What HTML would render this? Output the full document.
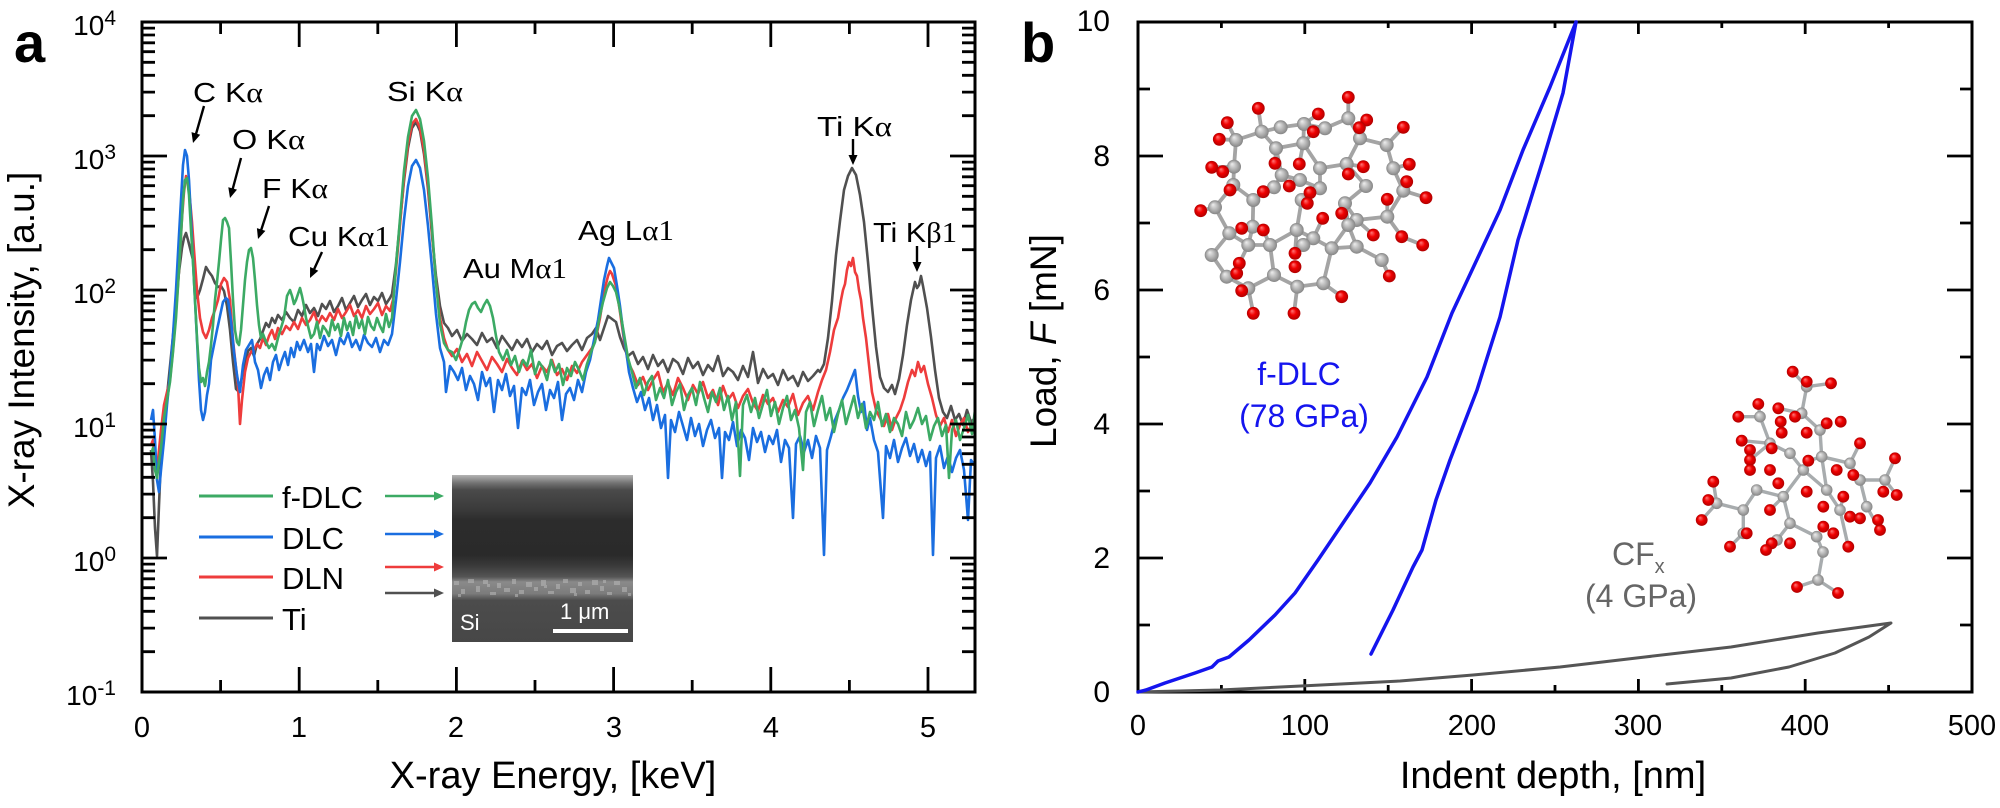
<!DOCTYPE html>
<html><head><meta charset="utf-8"><style>
html,body{margin:0;padding:0;background:#fff;}
svg{display:block;font-family:"Liberation Sans",Arial,sans-serif;}
</style></head><body>
<svg width="2000" height="808" viewBox="0 0 2000 808" xmlns="http://www.w3.org/2000/svg">
<defs>
 <clipPath id="cpa"><rect x="142" y="22" width="833" height="670"/></clipPath>
 <radialGradient id="gG" cx="0.5" cy="0.5" r="0.5" fx="0.35" fy="0.3"><stop offset="0" stop-color="#eeeeee"/><stop offset="0.6" stop-color="#b0b0b0"/><stop offset="1" stop-color="#858585"/></radialGradient>
 <radialGradient id="gR" cx="0.5" cy="0.5" r="0.5" fx="0.35" fy="0.3"><stop offset="0" stop-color="#ff7a7a"/><stop offset="0.5" stop-color="#f00000"/><stop offset="1" stop-color="#b00000"/></radialGradient>
 <linearGradient id="sem" x1="0" y1="0" x2="0" y2="1">
  <stop offset="0" stop-color="#b4b4b4"/>
  <stop offset="0.048" stop-color="#737373"/>
  <stop offset="0.09" stop-color="#4a4a4a"/>
  <stop offset="0.21" stop-color="#3a3a3a"/>
  <stop offset="0.27" stop-color="#2c2c2c"/>
  <stop offset="0.48" stop-color="#2a2a2a"/>
  <stop offset="0.54" stop-color="#393939"/>
  <stop offset="0.61" stop-color="#555555"/>
  <stop offset="0.64" stop-color="#8a8a8a"/>
  <stop offset="0.71" stop-color="#7c7c7c"/>
  <stop offset="0.75" stop-color="#4c4c4c"/>
  <stop offset="1" stop-color="#474747"/>
 </linearGradient>
</defs>

<!-- ===== panel a spectra ===== -->
<g clip-path="url(#cpa)" fill="none" stroke-width="2.6" stroke-linejoin="round">
<polyline stroke="#505050" points="151,450 153,482 155,528 157,556 159,505 161,458 164,420 167,396 170,366 173,336 176,302 179,272 182,248 184,238 186,233 188,240 191,252 194,264 197,298 200,290 203,279 206,267 209,272 212,276 215,283 218,287 221,286 224,291 227,306 230,330 233,362 236,389 239,392 242,377 245,363 248,351 251,348 254,356 257,344 260,339 263,331 266,323 269,327 272,318 275,323 278,315 282,320 286,312 290,318 294,322 298,310 302,316 306,305 310,313 314,308 318,316 322,304 326,309 330,301 334,312 338,306 342,298 346,310 350,303 354,296 358,307 362,300 366,294 370,305 374,297 378,301 382,293 386,304 390,298 392,294 396,264 400,222 404,181 408,148 412,128 416,122 420,131 424,154 428,189 432,235 436,276 440,306 444,323 448,328 452,336 457,330 462,341 467,334 472,339 477,345 482,333 487,342 492,338 497,348 502,336 507,343 512,350 517,340 522,347 527,339 532,352 537,344 542,349 547,341 552,355 557,346 562,343 567,351 572,345 577,340 582,350 587,338 592,334 596,328 600,340 604,328 608,316 612,319 616,322 620,337 624,348 628,356 633,352 638,364 643,357 648,369 653,355 658,366 663,360 668,372 673,359 678,363 683,374 688,358 693,368 698,362 703,375 708,365 713,371 718,356 723,376 728,368 733,372 738,380 743,366 748,377 753,352 758,383 763,369 768,378 773,374 778,385 783,370 788,380 793,376 798,386 803,372 808,381 813,376 818,370 820,372 824,364 828,338 832,301 836,255 840,221 844,190 848,176 852,168 856,175 860,195 864,222 868,262 872,306 876,347 880,377 884,388 888,392 892,385 895,394 899,379 903,355 907,325 911,300 915,282 917,288 919,285 921,276 923,286 927,308 931,337 935,370 939,398 943,412 947,418 951,406 955,420 959,414 963,425 967,410 971,422 975,418"/>
<polyline stroke="#ee3c3c" points="151,445 153,440 155,462 157,470 159,450 161,430 164,405 167,392 170,380 173,350 176,312 179,270 182,218 184,192 186,176 188,184 190,200 192,222 194,250 197,290 200,318 203,332 206,338 209,330 212,318 215,310 218,300 221,284 224,278 227,282 230,300 233,340 236,368 238,385 240,424 242,400 245,372 248,358 251,352 254,350 257,344 260,348 263,338 266,345 269,336 272,330 275,339 278,328 282,334 286,326 290,330 294,322 298,329 302,318 306,325 310,320 314,312 318,324 322,316 326,321 330,313 334,320 338,309 342,318 346,312 350,305 354,316 358,310 362,318 366,306 370,314 374,309 378,303 382,315 386,306 390,311 393,300 396,270 400,225 404,178 408,144 412,124 416,119 420,128 424,150 428,186 432,232 436,282 440,318 444,338 448,350 452,356 457,349 462,362 467,354 472,366 477,352 482,361 487,370 492,357 497,364 502,372 507,359 512,368 517,375 522,361 527,370 532,364 537,378 542,366 547,372 552,360 557,375 562,369 567,380 572,366 577,373 582,362 587,355 592,348 596,338 600,318 604,292 608,276 610,271 612,274 616,286 620,312 624,340 628,362 633,372 638,385 643,377 648,390 653,380 658,372 663,392 668,383 673,395 678,378 683,388 688,400 693,385 698,394 703,382 708,398 713,390 718,405 723,386 728,400 733,393 738,408 743,396 748,389 753,403 758,411 763,395 768,404 773,398 778,412 783,400 788,407 793,394 798,415 803,403 808,396 813,410 818,392 822,380 826,370 830,352 834,330 838,318 841,300 843,290 845,284 847,270 849,262 851,266 853,258 855,272 857,276 859,290 861,300 863,318 866,338 869,365 872,392 876,410 880,418 884,426 888,414 892,430 896,418 900,410 904,398 908,382 912,370 915,376 918,362 921,372 924,366 928,384 932,398 936,415 940,426 944,418 948,432 952,420 956,436 960,425 964,418 968,432 972,424 975,428"/>
<polyline stroke="#1a6ee0" points="151,420 153,410 155,440 157,480 159,492 161,470 164,440 167,405 170,375 173,335 176,290 179,235 181,200 183,165 185,150 187,156 189,180 191,218 193,262 195,300 197,340 199,380 201,410 203,420 205,412 207,395 209,384 211,360 214,345 217,330 220,316 223,302 226,298 228,300 231,320 234,352 237,375 240,392 243,365 246,350 249,345 252,340 255,362 258,370 261,388 264,375 267,368 270,380 273,362 276,355 279,370 282,360 285,352 288,365 291,348 294,357 297,342 300,350 304,340 308,352 311,344 314,372 317,344 320,350 324,336 328,346 332,340 336,355 340,338 344,344 348,333 352,347 356,340 360,350 364,335 368,343 372,347 376,338 380,352 384,340 388,345 392,334 396,300 400,262 404,220 408,186 412,166 416,160 420,168 424,190 428,226 432,268 436,314 440,348 444,362 446,392 450,366 454,372 458,380 462,368 466,390 470,376 474,384 478,400 482,372 486,386 490,378 494,412 498,380 502,390 506,374 510,396 514,386 518,428 522,388 526,395 530,380 534,405 538,392 542,384 546,410 550,390 554,398 558,382 562,420 566,394 570,388 574,400 578,380 582,392 586,372 590,360 594,340 598,320 601,300 604,280 607,266 609,258 611,262 614,268 617,286 620,306 623,330 626,350 629,372 633,388 637,402 641,392 645,410 649,398 653,420 657,405 661,428 665,415 668,478 671,420 675,432 679,412 683,426 687,440 691,418 695,436 699,424 703,446 707,430 711,420 715,438 719,428 722,478 725,432 729,440 733,422 737,446 741,430 745,438 749,460 753,428 757,442 761,432 765,452 769,436 773,444 777,430 781,462 785,440 789,448 793,518 796,444 800,436 804,452 808,440 812,458 816,436 820,448 824,555 827,450 831,436 835,420 839,410 843,398 847,390 851,380 855,370 858,396 861,412 864,402 867,430 870,418 874,440 878,452 883,518 886,446 890,458 894,440 898,462 902,448 906,438 910,456 914,444 918,462 922,450 926,466 930,452 933,555 936,458 940,446 944,468 948,456 952,472 956,458 960,450 964,470 968,520 971,460 975,466"/>
<polyline stroke="#3caa64" points="151,455 153,448 155,470 157,478 159,462 161,448 164,418 167,400 170,382 173,352 176,318 179,270 181,235 183,200 185,180 187,178 189,195 191,230 193,262 195,300 197,338 199,368 201,382 203,378 205,386 207,372 209,362 211,345 213,325 215,300 217,282 219,262 221,240 223,220 225,218 227,222 229,228 231,262 233,300 235,330 237,342 239,345 241,330 243,305 245,280 247,262 249,250 251,248 253,258 255,280 257,305 259,325 261,338 263,334 266,342 269,348 272,344 275,350 278,338 281,328 284,318 287,296 290,290 292,296 294,304 296,300 298,294 300,288 302,296 304,306 306,318 308,326 311,338 314,334 317,322 320,338 323,326 326,330 329,336 332,320 335,330 338,324 341,336 344,318 347,330 350,322 353,335 356,316 359,328 362,320 365,334 368,317 371,326 374,330 377,318 380,326 383,332 386,314 389,327 392,318 396,266 400,219 404,171 408,137 412,116 416,110 420,119 424,141 428,178 432,227 436,283 440,324 444,343 448,350 452,352 456,360 460,348 463,338 466,322 469,310 472,304 475,302 478,308 481,312 484,305 487,300 490,306 493,318 496,336 499,352 503,360 507,350 511,365 515,356 519,372 523,360 527,366 531,350 535,374 539,362 543,368 547,380 551,360 555,372 559,364 563,385 567,368 571,376 575,362 579,370 583,380 587,364 591,352 595,342 599,320 603,302 607,288 610,282 613,286 616,292 619,305 622,322 625,340 628,358 632,372 636,388 640,378 644,395 648,382 652,376 656,400 660,388 664,398 668,380 672,405 676,392 680,384 684,410 688,395 692,388 696,405 700,382 704,398 708,412 712,392 716,402 720,388 724,410 728,396 732,420 736,402 740,476 743,405 747,395 751,412 755,398 759,418 763,404 767,390 771,416 775,402 779,424 783,408 787,396 791,420 795,410 799,428 803,470 806,412 810,402 814,426 818,410 822,396 826,420 830,408 834,432 838,414 842,400 846,424 850,410 854,396 858,418 862,404 866,428 870,412 874,420 878,402 882,426 886,414 890,432 894,418 898,424 902,436 906,412 910,428 914,420 918,408 922,424 926,416 930,440 934,426 938,418 942,436 946,425 949,478 952,430 956,420 960,440 964,428 968,415 972,434 975,410"/>
</g>

<!-- panel a axes -->
<g stroke="#000" stroke-width="3" fill="none">
<rect x="142" y="22" width="833" height="670"/>
<path stroke-width="2.8" d="M299.2 692v-25M456.4 692v-25M613.6 692v-25M770.8 692v-25M928 692v-25
M220.6 692v-12M377.8 692v-12M535 692v-12M692.2 692v-12M849.4 692v-12
M299.2 22v25M456.4 22v25M613.6 22v25M770.8 22v25M928 22v25
M220.6 22v12M377.8 22v12M535 22v12M692.2 22v12M849.4 22v12
M142 558h25M142 424h25M142 290h25M142 156h25
M975 558h-25M975 424h-25M975 290h-25M975 156h-25
M142 651.7h13M142 628.1h13M142 611.3h13M142 598.3h13M142 587.7h13M142 578.8h13M142 571h13M142 564.1h13
M142 517.7h13M142 494.1h13M142 477.3h13M142 464.3h13M142 453.7h13M142 444.8h13M142 437h13M142 430.1h13
M142 383.7h13M142 360.1h13M142 343.3h13M142 330.3h13M142 319.7h13M142 310.8h13M142 303h13M142 296.1h13
M142 249.7h13M142 226.1h13M142 209.3h13M142 196.3h13M142 185.7h13M142 176.8h13M142 169h13M142 162.1h13
M142 115.7h13M142 92.1h13M142 75.3h13M142 62.3h13M142 51.7h13M142 42.8h13M142 35h13M142 28.1h13
M975 651.7h-13M975 628.1h-13M975 611.3h-13M975 598.3h-13M975 587.7h-13M975 578.8h-13M975 571h-13M975 564.1h-13
M975 517.7h-13M975 494.1h-13M975 477.3h-13M975 464.3h-13M975 453.7h-13M975 444.8h-13M975 437h-13M975 430.1h-13
M975 383.7h-13M975 360.1h-13M975 343.3h-13M975 330.3h-13M975 319.7h-13M975 310.8h-13M975 303h-13M975 296.1h-13
M975 249.7h-13M975 226.1h-13M975 209.3h-13M975 196.3h-13M975 185.7h-13M975 176.8h-13M975 169h-13M975 162.1h-13
M975 115.7h-13M975 92.1h-13M975 75.3h-13M975 62.3h-13M975 51.7h-13M975 42.8h-13M975 35h-13M975 28.1h-13"/>
</g>

<!-- inset SEM -->
<rect x="452" y="475" width="181" height="167" fill="url(#sem)"/>
<g fill="#b4b4b4" opacity="0.6">
<rect x="454" y="581" width="5" height="4"/><rect x="461" y="589" width="4" height="5"/><rect x="468" y="579" width="6" height="4"/><rect x="476" y="586" width="4" height="6"/><rect x="483" y="580" width="5" height="4"/><rect x="490" y="592" width="6" height="3"/><rect x="497" y="583" width="4" height="5"/><rect x="504" y="588" width="6" height="4"/><rect x="512" y="579" width="4" height="5"/><rect x="519" y="590" width="5" height="4"/><rect x="526" y="582" width="6" height="5"/><rect x="534" y="587" width="4" height="4"/><rect x="541" y="580" width="5" height="6"/><rect x="548" y="591" width="6" height="3"/><rect x="556" y="584" width="4" height="5"/><rect x="563" y="579" width="5" height="4"/><rect x="570" y="588" width="6" height="5"/><rect x="578" y="582" width="4" height="4"/><rect x="585" y="590" width="5" height="4"/><rect x="592" y="580" width="6" height="5"/><rect x="600" y="586" width="4" height="5"/><rect x="607" y="592" width="5" height="3"/><rect x="614" y="581" width="6" height="4"/><rect x="622" y="587" width="5" height="5"/>
<rect x="458" y="594" width="3" height="3"/><rect x="487" y="584" width="3" height="3"/><rect x="515" y="594" width="3" height="3"/><rect x="544" y="585" width="3" height="3"/><rect x="574" y="593" width="3" height="3"/><rect x="603" y="580" width="3" height="3"/><rect x="628" y="593" width="3" height="3"/>
</g>
<rect x="553" y="629" width="75" height="4" fill="#fff"/>
<text x="460" y="630" font-size="22" fill="#fff">Si</text>
<text x="560" y="619" font-size="22" fill="#fff">1 μm</text>

<!-- legend -->
<g stroke-width="3">
 <line x1="199" y1="496" x2="273" y2="496" stroke="#3caa64"/>
 <line x1="199" y1="537" x2="273" y2="537" stroke="#1a6ee0"/>
 <line x1="199" y1="577" x2="273" y2="577" stroke="#ee3c3c"/>
 <line x1="199" y1="618" x2="273" y2="618" stroke="#505050"/>
 <line x1="385" y1="496" x2="435" y2="496" stroke="#3caa64" stroke-width="2.6"/>
 <line x1="385" y1="534" x2="435" y2="534" stroke="#1a6ee0" stroke-width="2.6"/>
 <line x1="385" y1="567" x2="435" y2="567" stroke="#ee3c3c" stroke-width="2.6"/>
 <line x1="385" y1="593" x2="435" y2="593" stroke="#505050" stroke-width="2.6"/>
</g>
<polygon points="444,496 434,491.5 434,500.5" fill="#3caa64"/>
<polygon points="444,534 434,529.5 434,538.5" fill="#1a6ee0"/>
<polygon points="444,567 434,562.5 434,571.5" fill="#ee3c3c"/>
<polygon points="444,593 434,588.5 434,597.5" fill="#505050"/>
<g font-size="31" fill="#000">
 <text x="282" y="508">f-DLC</text>
 <text x="282" y="549">DLC</text>
 <text x="282" y="589">DLN</text>
 <text x="282" y="630">Ti</text>
</g>

<!-- peak arrows -->
<g stroke="#000" stroke-width="2.4">
<line x1="204" y1="106" x2="196" y2="134"/>
<line x1="241" y1="158" x2="232.7" y2="189"/>
<line x1="269" y1="206" x2="261.2" y2="230"/>
<line x1="322" y1="252" x2="314.2" y2="269"/>
<line x1="853" y1="139" x2="853" y2="156"/>
<line x1="917" y1="246" x2="917" y2="263"/>
</g>
<g fill="#000">
<polygon points="193,143 191.5,132.1 200.2,134.7"/>
<polygon points="230,198 228.3,187.2 237,189.6"/>
<polygon points="258,239 256.9,228.1 265.4,230.9"/>
<polygon points="310,278 310.1,267 318.3,270.8"/>
<polygon points="853,165 848.5,155 857.5,155"/>
<polygon points="917,272 912.5,262 921.5,262"/>
</g>

<!-- peak labels -->
<g font-size="28" fill="#000">
 <text x="193" y="102" textLength="70" lengthAdjust="spacingAndGlyphs">C K<tspan font-family="Liberation Serif">α</tspan></text>
 <text x="232" y="149" textLength="73" lengthAdjust="spacingAndGlyphs">O K<tspan font-family="Liberation Serif">α</tspan></text>
 <text x="262" y="198" textLength="66" lengthAdjust="spacingAndGlyphs">F K<tspan font-family="Liberation Serif">α</tspan></text>
 <text x="288" y="246" textLength="102" lengthAdjust="spacingAndGlyphs">Cu K<tspan font-family="Liberation Serif">α1</tspan></text>
 <text x="387" y="101" textLength="76" lengthAdjust="spacingAndGlyphs">Si K<tspan font-family="Liberation Serif">α</tspan></text>
 <text x="463" y="278" textLength="104" lengthAdjust="spacingAndGlyphs">Au M<tspan font-family="Liberation Serif">α1</tspan></text>
 <text x="578" y="240" textLength="96" lengthAdjust="spacingAndGlyphs">Ag L<tspan font-family="Liberation Serif">α1</tspan></text>
 <text x="817" y="136" textLength="75" lengthAdjust="spacingAndGlyphs">Ti K<tspan font-family="Liberation Serif">α</tspan></text>
 <text x="873" y="242" textLength="84" lengthAdjust="spacingAndGlyphs">Ti K<tspan font-family="Liberation Serif">β1</tspan></text>
</g>

<!-- axis labels a -->
<g font-size="28" fill="#000" text-anchor="end">
 <text x="116" y="35">10<tspan dy="-10" font-size="21">4</tspan></text>
 <text x="116" y="169">10<tspan dy="-10" font-size="21">3</tspan></text>
 <text x="116" y="303">10<tspan dy="-10" font-size="21">2</tspan></text>
 <text x="116" y="437">10<tspan dy="-10" font-size="21">1</tspan></text>
 <text x="116" y="571">10<tspan dy="-10" font-size="21">0</tspan></text>
 <text x="116" y="705">10<tspan dy="-10" font-size="21">-1</tspan></text>
</g>
<g font-size="29" fill="#000" text-anchor="middle">
 <text x="142" y="737">0</text>
 <text x="299" y="737">1</text>
 <text x="456" y="737">2</text>
 <text x="614" y="737">3</text>
 <text x="771" y="737">4</text>
 <text x="928" y="737">5</text>
</g>
<text x="553" y="788" font-size="38" text-anchor="middle">X-ray Energy, [keV]</text>
<text transform="translate(34,340) rotate(-90)" font-size="37" text-anchor="middle">X-ray Intensity, [a.u.]</text>
<text x="14" y="62" font-size="56" font-weight="bold">a</text>

<!-- ===== panel b ===== -->
<!-- f-DLC molecule -->
<g stroke="#a4a4a4" stroke-width="3.8" stroke-linecap="round" fill="none">
<path d="M1236 140L1261.7 131.7L1280.7 127.3L1304 124L1325 128.3L1348.3 118.3L1360 138.3L1386.7 145L1393.3 168.3L1403.3 190.7L1387.3 216.7L1356.7 220L1345 203.3L1366 186L1346.7 164L1360 138.3
M1346.7 164L1320 168.3L1303.3 143.3L1304 124M1320 168.3L1320 188.3L1300 180M1320 188.3L1301.7 200
M1303.3 143.3L1276 148.3L1261.7 131.7M1276 148.3L1281.7 175L1300 180M1281.7 175L1274 187.3L1253.3 200L1233.3 185L1234 166.7L1236 140
M1253.3 200L1252.7 226.7M1215 207.3L1229.3 233.3M1215 207.3L1233.3 185M1229.3 233.3L1252.7 226.7M1229.3 233.3L1248.3 245L1270 245M1252.7 226.7L1248.3 245
M1270 245L1274 275M1270 245L1296.7 230L1301.7 200M1296.7 230L1313.3 238.3L1303.3 245M1313.3 238.3L1331.7 248.3L1356.7 246.7L1348.3 225L1331.7 248.3M1356.7 246.7L1381.7 260
M1211.7 255L1226.7 276.7L1248.3 288.3L1274 275L1297.3 286.7L1323.3 283.3L1331.7 248.3M1211.7 255L1229.3 233.3M1345 203.3L1348.3 225
M1258.3 108.3L1261.7 131.7M1227.3 122.7L1236 140M1219.3 139.3L1236 140M1211.7 167.3L1234 166.7M1222.7 171.7L1234 166.7M1230 190L1233.3 185M1263.3 191.7L1274 187.3M1275 163.3L1276 148.3M1289.3 186L1281.7 175M1299.3 164L1303.3 143.3M1310 192.7L1320 188.3M1318.3 114L1304 124M1313.3 131.7L1303.3 143.3M1348.3 97.3L1348.3 118.3M1366.7 120L1360 138.3M1403.3 127.3L1386.7 145M1409.3 164.3L1393.3 168.3M1363.3 166.7L1346.7 164M1406.7 181.7L1403.3 190.7M1426 197.7L1403.3 190.7M1387.3 199.3L1387.3 216.7M1341.7 213.3L1345 203.3M1373.3 235L1356.7 220M1401.7 236.7L1387.3 216.7M1422.7 245L1401.7 236.7M1389.3 276L1381.7 260M1341.7 296.7L1323.3 283.3M1322.7 218.3L1313.3 238.3M1295 253.3L1296.7 230M1239.3 263.3L1248.3 245M1241.7 290.7L1248.3 288.3M1253.3 313.3L1248.3 288.3M1294 313.3L1297.3 286.7M1200.7 210.7L1215 207.3M1241.7 228.3L1252.7 226.7M1263.3 230L1270 245"/>
</g>
<g fill="url(#gG)">
<circle cx="1236" cy="140" r="7"/><circle cx="1261.7" cy="131.7" r="7"/><circle cx="1280.7" cy="127.3" r="7"/><circle cx="1304" cy="124" r="7"/><circle cx="1325" cy="128.3" r="7"/><circle cx="1348.3" cy="118.3" r="7"/><circle cx="1360" cy="138.3" r="7"/><circle cx="1386.7" cy="145" r="7"/><circle cx="1393.3" cy="168.3" r="7"/><circle cx="1403.3" cy="190.7" r="7"/><circle cx="1387.3" cy="216.7" r="7"/><circle cx="1356.7" cy="220" r="7"/><circle cx="1345" cy="203.3" r="7"/><circle cx="1366" cy="186" r="7"/><circle cx="1346.7" cy="164" r="7"/><circle cx="1320" cy="168.3" r="7"/><circle cx="1320" cy="188.3" r="7"/><circle cx="1300" cy="180" r="7"/><circle cx="1301.7" cy="200" r="7"/><circle cx="1276" cy="148.3" r="7"/><circle cx="1303.3" cy="143.3" r="7"/><circle cx="1281.7" cy="175" r="7"/><circle cx="1274" cy="187.3" r="7"/><circle cx="1253.3" cy="200" r="7"/><circle cx="1233.3" cy="185" r="7"/><circle cx="1234" cy="166.7" r="7"/><circle cx="1215" cy="207.3" r="7"/><circle cx="1229.3" cy="233.3" r="7"/><circle cx="1248.3" cy="245" r="7"/><circle cx="1252.7" cy="226.7" r="7"/><circle cx="1270" cy="245" r="7"/><circle cx="1296.7" cy="230" r="7"/><circle cx="1313.3" cy="238.3" r="7"/><circle cx="1303.3" cy="245" r="7"/><circle cx="1331.7" cy="248.3" r="7"/><circle cx="1356.7" cy="246.7" r="7"/><circle cx="1381.7" cy="260" r="7"/><circle cx="1211.7" cy="255" r="7"/><circle cx="1226.7" cy="276.7" r="7"/><circle cx="1248.3" cy="288.3" r="7"/><circle cx="1274" cy="275" r="7"/><circle cx="1297.3" cy="286.7" r="7"/><circle cx="1323.3" cy="283.3" r="7"/><circle cx="1348.3" cy="225" r="7"/>
</g>
<g fill="url(#gR)">
<circle cx="1258.3" cy="108.3" r="6.4"/><circle cx="1227.3" cy="122.7" r="6.4"/><circle cx="1219.3" cy="139.3" r="6.4"/><circle cx="1211.7" cy="167.3" r="6.4"/><circle cx="1222.7" cy="171.7" r="6.4"/><circle cx="1230" cy="190" r="6.4"/><circle cx="1263.3" cy="191.7" r="6.4"/><circle cx="1275" cy="163.3" r="6.4"/><circle cx="1289.3" cy="186" r="6.4"/><circle cx="1299.3" cy="164" r="6.4"/><circle cx="1310" cy="192.7" r="6.4"/><circle cx="1307.3" cy="203.3" r="6.4"/><circle cx="1318.3" cy="114" r="6.4"/><circle cx="1313.3" cy="131.7" r="6.4"/><circle cx="1348.3" cy="97.3" r="6.4"/><circle cx="1366.7" cy="120" r="6.4"/><circle cx="1359.3" cy="127.7" r="6.4"/><circle cx="1403.3" cy="127.3" r="6.4"/><circle cx="1409.3" cy="164.3" r="6.4"/><circle cx="1363.3" cy="166.7" r="6.4"/><circle cx="1348.3" cy="174" r="6.4"/><circle cx="1406.7" cy="181.7" r="6.4"/><circle cx="1426" cy="197.7" r="6.4"/><circle cx="1387.3" cy="199.3" r="6.4"/><circle cx="1341.7" cy="213.3" r="6.4"/><circle cx="1373.3" cy="235" r="6.4"/><circle cx="1401.7" cy="236.7" r="6.4"/><circle cx="1422.7" cy="245" r="6.4"/><circle cx="1389.3" cy="276" r="6.4"/><circle cx="1341.7" cy="296.7" r="6.4"/><circle cx="1322.7" cy="218.3" r="6.4"/><circle cx="1295" cy="253.3" r="6.4"/><circle cx="1295" cy="266.7" r="6.4"/><circle cx="1239.3" cy="263.3" r="6.4"/><circle cx="1236.7" cy="273.3" r="6.4"/><circle cx="1241.7" cy="290.7" r="6.4"/><circle cx="1253.3" cy="313.3" r="6.4"/><circle cx="1294" cy="313.3" r="6.4"/><circle cx="1200.7" cy="210.7" r="6.4"/><circle cx="1241.7" cy="228.3" r="6.4"/><circle cx="1263.3" cy="230" r="6.4"/>
</g>

<!-- CFx molecule -->
<g stroke="#a8acae" stroke-width="3.4" stroke-linecap="round" fill="none">
<path d="M1806.7 386.7L1801.7 413.3L1820 430L1821.7 456.7L1850 463.3L1860 480L1885 480M1860 480L1866.7 506.7M1821.7 456.7L1826.7 490L1803.3 470L1790 453.3L1770 443.3L1760 416.7
M1803.3 470L1783.3 496.7L1756.7 490L1743.3 510L1716.7 503.3M1783.3 496.7L1790 523.3L1816.7 536.7M1743.3 510L1743.3 533.3M1826.7 490L1840 510M1816.7 536.7L1823 552L1818 580M1790 523.3L1777 540
M1792.7 371.7L1806.7 386.7M1831 383.3L1806.7 386.7M1758.3 404L1760 416.7M1738.3 416.7L1760 416.7M1895 458.3L1885 480M1896.7 495L1885 480M1713.3 481.7L1716.7 503.3M1701.7 520L1716.7 503.3M1797 587L1818 580M1838 593L1818 580M1880 530L1866.7 506.7M1860 443.3L1850 463.3M1778.3 408.3L1801.7 413.3M1826.7 423.3L1820 430M1741.7 440.7L1770 443.3M1750 460L1770 443.3M1808.3 460.7L1821.7 456.7M1843.3 496.7L1840 510M1770 510L1783.3 496.7M1730 546.7L1743.3 533.3M1771.7 543.3L1777 540M1848.3 546.7L1840 510"/>
</g>
<g fill="url(#gG)">
<circle cx="1806.7" cy="386.7" r="5.8"/><circle cx="1801.7" cy="413.3" r="5.8"/><circle cx="1820" cy="430" r="5.8"/><circle cx="1821.7" cy="456.7" r="5.8"/><circle cx="1850" cy="463.3" r="5.8"/><circle cx="1860" cy="480" r="5.8"/><circle cx="1885" cy="480" r="5.8"/><circle cx="1866.7" cy="506.7" r="5.8"/><circle cx="1826.7" cy="490" r="5.8"/><circle cx="1803.3" cy="470" r="5.8"/><circle cx="1790" cy="453.3" r="5.8"/><circle cx="1770" cy="443.3" r="5.8"/><circle cx="1760" cy="416.7" r="5.8"/><circle cx="1783.3" cy="496.7" r="5.8"/><circle cx="1756.7" cy="490" r="5.8"/><circle cx="1743.3" cy="510" r="5.8"/><circle cx="1716.7" cy="503.3" r="5.8"/><circle cx="1790" cy="523.3" r="5.8"/><circle cx="1816.7" cy="536.7" r="5.8"/><circle cx="1743.3" cy="533.3" r="5.8"/><circle cx="1840" cy="510" r="5.8"/><circle cx="1823" cy="552" r="5.8"/><circle cx="1818" cy="580" r="5.8"/><circle cx="1777" cy="540" r="5.8"/>
</g>
<g fill="url(#gR)">
<circle cx="1792.7" cy="371.7" r="5.9"/><circle cx="1806.7" cy="381.7" r="5.9"/><circle cx="1831" cy="383.3" r="5.9"/><circle cx="1758.3" cy="404" r="5.9"/><circle cx="1738.3" cy="416.7" r="5.9"/><circle cx="1778.3" cy="408.3" r="5.9"/><circle cx="1795" cy="416.7" r="5.9"/><circle cx="1780.7" cy="421.7" r="5.9"/><circle cx="1826.7" cy="423.3" r="5.9"/><circle cx="1840.7" cy="421.7" r="5.9"/><circle cx="1806.7" cy="432.7" r="5.9"/><circle cx="1781.7" cy="432.7" r="5.9"/><circle cx="1741.7" cy="440.7" r="5.9"/><circle cx="1750" cy="450" r="5.9"/><circle cx="1771.7" cy="448.3" r="5.9"/><circle cx="1860" cy="443.3" r="5.9"/><circle cx="1895" cy="458.3" r="5.9"/><circle cx="1750" cy="460" r="5.9"/><circle cx="1750" cy="470" r="5.9"/><circle cx="1770" cy="470" r="5.9"/><circle cx="1808.3" cy="460.7" r="5.9"/><circle cx="1836.7" cy="470" r="5.9"/><circle cx="1853.3" cy="475" r="5.9"/><circle cx="1883.3" cy="491.7" r="5.9"/><circle cx="1896.7" cy="495" r="5.9"/><circle cx="1778.3" cy="483.3" r="5.9"/><circle cx="1806.7" cy="491.7" r="5.9"/><circle cx="1843.3" cy="496.7" r="5.9"/><circle cx="1713.3" cy="481.7" r="5.9"/><circle cx="1708.3" cy="500" r="5.9"/><circle cx="1701.7" cy="520" r="5.9"/><circle cx="1770" cy="510" r="5.9"/><circle cx="1823.3" cy="506.7" r="5.9"/><circle cx="1850" cy="516.7" r="5.9"/><circle cx="1860" cy="518.3" r="5.9"/><circle cx="1880" cy="530" r="5.9"/><circle cx="1746.7" cy="533.3" r="5.9"/><circle cx="1730" cy="546.7" r="5.9"/><circle cx="1771.7" cy="543.3" r="5.9"/><circle cx="1790" cy="543.3" r="5.9"/><circle cx="1823.3" cy="526.7" r="5.9"/><circle cx="1833.3" cy="533.3" r="5.9"/><circle cx="1848.3" cy="546.7" r="5.9"/><circle cx="1797" cy="587" r="5.9"/><circle cx="1838" cy="593" r="5.9"/><circle cx="1878" cy="520" r="5.9"/><circle cx="1766" cy="550" r="5.9"/>
</g>

<!-- panel b axes -->
<g stroke="#000" stroke-width="3" fill="none">
<rect x="1138" y="22" width="834" height="670"/>
<path stroke-width="2.8" d="M1304.8 692v-13M1471.6 692v-13M1638.4 692v-13M1805.2 692v-13
M1221.4 692v-7M1388.2 692v-7M1555 692v-7M1721.8 692v-7M1888.6 692v-7
M1304.8 22v12M1471.6 22v12M1638.4 22v12M1805.2 22v12
M1221.4 22v6M1388.2 22v6M1555 22v6M1721.8 22v6M1888.6 22v6
M1138 558h25M1138 424h25M1138 290h25M1138 156h25
M1138 625h12M1138 491h12M1138 357h12M1138 223h12M1138 89h12
M1972 558h-25M1972 424h-25M1972 290h-25M1972 156h-25
M1972 625h-12M1972 491h-12M1972 357h-12M1972 223h-12M1972 89h-12"/>
</g>
<g fill="none" stroke-linejoin="round" stroke-linecap="round">
 <polyline stroke="#555" stroke-width="3" points="1138,692 1220,690 1301,686 1400,681 1473,675 1560,667 1645,657 1731,647 1818,633 1891,623 1869,637 1835,653 1789,667 1731,678 1667,684"/>
 <polyline stroke="#1515ee" stroke-width="3.5" points="1138,692 1146,690 1165,683 1195,673 1212,667 1218,661 1229,657 1249,640 1275,615 1295,593 1318,560 1343,523 1370,483 1397,437 1427,377 1452,313 1480,253 1500,210 1523,150 1550,87 1576,22"/>
 <polyline stroke="#1515ee" stroke-width="3.5" points="1576,22 1563,93 1543,160 1518,240 1500,317 1487,358 1477,390 1450,460 1436,500 1422,550 1413,567 1393,610 1371,654"/>
</g>
<g font-size="30" fill="#000" text-anchor="end">
 <text x="1110" y="31">10</text>
 <text x="1110" y="166">8</text>
 <text x="1110" y="300">6</text>
 <text x="1110" y="434">4</text>
 <text x="1110" y="568">2</text>
 <text x="1110" y="702">0</text>
</g>
<g font-size="29" fill="#000" text-anchor="middle">
 <text x="1138" y="735">0</text>
 <text x="1305" y="735">100</text>
 <text x="1472" y="735">200</text>
 <text x="1638" y="735">300</text>
 <text x="1805" y="735">400</text>
 <text x="1972" y="735">500</text>
</g>
<text x="1553" y="788" font-size="38" text-anchor="middle">Indent depth, [nm]</text>
<text transform="translate(1056,341) rotate(-90)" font-size="37" text-anchor="middle">Load, <tspan font-style="italic">F</tspan> [mN]</text>
<text x="1021" y="62" font-size="56" font-weight="bold">b</text>
<g fill="#1515ee" font-size="32" text-anchor="middle">
 <text x="1299" y="385">f-DLC</text>
 <text x="1304" y="427">(78 GPa)</text>
</g>
<g fill="#666" font-size="32">
 <text x="1612" y="565">CF<tspan font-size="20" dy="8">x</tspan></text>
 <text x="1641" y="607" text-anchor="middle">(4 GPa)</text>
</g>
</svg>
</body></html>
